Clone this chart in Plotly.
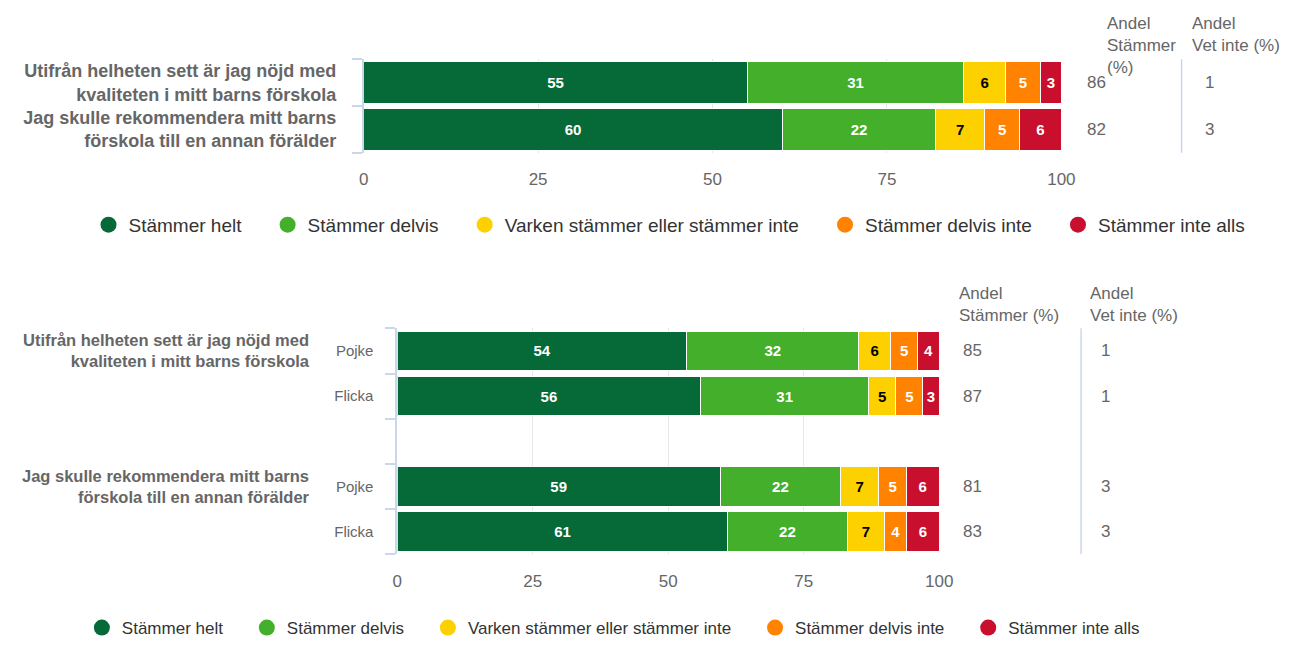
import plotly.graph_objects as go

# ---------------- data ----------------
questions = [
    "Utifrån helheten sett är jag nöjd med<br>kvaliteten i mitt barns förskola",
    "Jag skulle rekommendera mitt barns<br>förskola till en annan förälder",
]
series_names = ["Stämmer helt", "Stämmer delvis", "Varken stämmer eller stämmer inte",
                "Stämmer delvis inte", "Stämmer inte alls"]
colors = ["#066a38", "#44af2a", "#fdd000", "#ff8200", "#c8102e"]
text_colors = ["white", "white", "black", "white", "white"]

# total chart
helt = [55, 60]
delvis = [31, 22]
varken = [6, 7]
delvis_inte = [5, 5]
inte_alls = [3, 6]
andel_stammer = [86, 82]
andel_vet_inte = [1, 3]

# by gender
genders = ["Pojke", "Flicka"]
helt_g = [54, 56, 59, 61]
delvis_g = [32, 31, 22, 22]
varken_g = [6, 5, 7, 7]
delvis_inte_g = [5, 5, 5, 4]
inte_alls_g = [4, 3, 6, 6]
andel_stammer_g = [85, 87, 81, 83]
andel_vet_inte_g = [1, 1, 3, 3]

top_series = [helt, delvis, varken, delvis_inte, inte_alls]
bot_series = [helt_g, delvis_g, varken_g, delvis_inte_g, inte_alls_g]

W, H = 1303, 646
def px(x):
    return x / W
def py(y):
    return 1 - y / H

FONT = "Liberation Sans, Arial, sans-serif"
AXIS_COL = "#ccd6eb"
GRID_COL = "#e6e6e6"
TXT = "#666666"

fig = go.Figure()

top_y = list(range(len(questions)))
bot_y = [q * 3 + g for q in range(len(questions)) for g in range(len(genders))]
bot_labels = [g for q in range(len(questions)) for g in genders]

for i, name in enumerate(series_names):
    fig.add_trace(go.Bar(
        x=top_series[i], y=top_y, orientation="h", name=name,
        marker=dict(color=colors[i], line=dict(color="white", width=1)),
        text=top_series[i], texttemplate="<b>%{text}</b>",
        textposition="inside", insidetextanchor="middle", textangle=0,
        constraintext="none",
        textfont=dict(color=text_colors[i], size=15, family=FONT),
        showlegend=False, hoverinfo="skip", xaxis="x", yaxis="y",
    ))
    fig.add_trace(go.Bar(
        x=bot_series[i], y=bot_y, orientation="h", name=name,
        marker=dict(color=colors[i], line=dict(color="white", width=1)),
        text=bot_series[i], texttemplate="<b>%{text}</b>",
        textposition="inside", insidetextanchor="middle", textangle=0,
        constraintext="none",
        textfont=dict(color=text_colors[i], size=15, family=FONT),
        showlegend=False, hoverinfo="skip", xaxis="x2", yaxis="y2",
    ))

# legend entries (circles)
for i, name in enumerate(series_names):
    fig.add_trace(go.Scatter(x=[None], y=[None], mode="markers", name=name + "    ",
                             marker=dict(color=colors[i], size=18, symbol="circle"),
                             legend="legend", xaxis="x", yaxis="y"))
    fig.add_trace(go.Scatter(x=[None], y=[None], mode="markers", name=name + "    ",
                             marker=dict(color=colors[i], size=18, symbol="circle"),
                             legend="legend2", xaxis="x2", yaxis="y2"))

xcommon = dict(range=[0, 100], tickvals=[0, 25, 50, 75, 100], showgrid=True,
               gridcolor=GRID_COL, gridwidth=1, zeroline=False, showline=False,
               ticks="outside", ticklen=11, tickcolor="rgba(0,0,0,0)",
               tickfont=dict(size=17, color=TXT, family=FONT), fixedrange=True)

fig.update_layout(
    autosize=True,
    barmode="stack", barnorm="percent", bargap=0.12,
    margin=dict(l=0, r=0, t=0, b=0),
    paper_bgcolor="white", plot_bgcolor="white",
    font=dict(family=FONT, color=TXT),
    xaxis=dict(domain=[px(364), px(1072)], anchor="y", **xcommon),
    xaxis2=dict(domain=[px(398), px(948)], anchor="y2", **xcommon),
    yaxis=dict(domain=[py(155), py(60)], anchor="x", range=[len(questions) - 0.5, -0.5],
               tickmode="array", tickvals=top_y,
               ticktext=["<b>" + q + "</b>" for q in questions],
               tickfont=dict(size=18, color=TXT, family=FONT),
               ticks="outside", ticklen=22, tickcolor="rgba(0,0,0,0)",
               showline=True, linecolor=AXIS_COL, linewidth=1.5,
               showgrid=False, zeroline=False, fixedrange=True,
               minor=dict(tickmode="array",
                          tickvals=[v - 0.5 for v in top_y] + [top_y[-1] + 0.5],
                          ticks="outside", ticklen=10, tickcolor=AXIS_COL, tickwidth=1.5,
                          showgrid=False)),
    yaxis2=dict(domain=[py(562), py(333)], anchor="x2", range=[bot_y[-1] + 0.5, -0.5],
                tickmode="array", tickvals=bot_y, ticktext=bot_labels,
                tickfont=dict(size=15, color=TXT, family=FONT),
                ticks="outside", ticklen=19, tickcolor="rgba(0,0,0,0)",
                showline=True, linecolor=AXIS_COL, linewidth=1.5,
                showgrid=False, zeroline=False, fixedrange=True,
                minor=dict(tickmode="array",
                           tickvals=[v - 0.5 for v in range(bot_y[-1] + 1)] + [bot_y[-1] + 0.5],
                           ticks="outside", ticklen=10, tickcolor=AXIS_COL, tickwidth=1.5,
                           showgrid=False)),
    legend=dict(orientation="h", x=px(685), xanchor="center", y=py(228), yanchor="middle",
                traceorder="normal",
                font=dict(size=19, color="#333333", family=FONT), itemclick=False,
                itemdoubleclick=False, bgcolor="rgba(0,0,0,0)"),
    legend2=dict(orientation="h", x=px(627), xanchor="center", y=py(637), yanchor="middle",
                 traceorder="normal",
                 font=dict(size=17, color="#333333", family=FONT), itemclick=False,
                 itemdoubleclick=False, bgcolor="rgba(0,0,0,0)"),
)

ann = []
# headers
hdr_font = dict(size=17, color=TXT, family=FONT)
ann.append(dict(text="Andel<br>Stämmer<br>(%)", x=px(1116), y=py(12), xref="paper", yref="paper",
                xanchor="left", yanchor="top", align="left", showarrow=False, font=hdr_font))
ann.append(dict(text="Andel<br>Vet inte (%)", x=px(1203), y=py(12), xref="paper", yref="paper",
                xanchor="left", yanchor="top", align="left", showarrow=False, font=hdr_font))
ann.append(dict(text="Andel<br>Stämmer (%)", x=px(966), y=py(286), xref="paper", yref="paper",
                xanchor="left", yanchor="top", align="left", showarrow=False, font=hdr_font))
ann.append(dict(text="Andel<br>Vet inte (%)", x=px(1099), y=py(286), xref="paper", yref="paper",
                xanchor="left", yanchor="top", align="left", showarrow=False, font=hdr_font))

val_font = dict(size=17, color=TXT, family=FONT)
for yy, s, v in zip(top_y, andel_stammer, andel_vet_inte):
    ann.append(dict(text=str(s), x=px(1096), y=yy, xref="paper", yref="y", xanchor="left",
                    showarrow=False, font=val_font))
    ann.append(dict(text=str(v), x=px(1222), y=yy, xref="paper", yref="y", xanchor="center",
                    showarrow=False, font=val_font))
for yy, s, v in zip(bot_y, andel_stammer_g, andel_vet_inte_g):
    ann.append(dict(text=str(s), x=px(970), y=yy, xref="paper", yref="y2", xanchor="left",
                    showarrow=False, font=val_font))
    ann.append(dict(text=str(v), x=px(1117), y=yy, xref="paper", yref="y2", xanchor="center",
                    showarrow=False, font=val_font))

# group labels for bottom chart
for q, label in enumerate(questions):
    ann.append(dict(text="<b>" + label + "</b>", x=px(312), y=bot_y[q * len(genders)],
                    xref="paper", yref="y2", xanchor="right", yanchor="middle", align="right",
                    showarrow=False, font=dict(size=16.5, color=TXT, family=FONT)))

fig.update_layout(annotations=ann)

fig.add_shape(type="line", xref="paper", yref="y domain", x0=px(1194), x1=px(1194), y0=0, y1=1,
              line=dict(color=AXIS_COL, width=1.5))
fig.add_shape(type="line", xref="paper", yref="y2 domain", x0=px(1092), x1=px(1092), y0=0, y1=1,
              line=dict(color=AXIS_COL, width=1.5))

post = ("document.body.style.margin='0';document.body.style.padding='0';"
        "document.body.style.overflow='hidden';"
        "document.documentElement.style.overflow='hidden';")
fig.write_html("out.html", config={"displayModeBar": False, "responsive": True},
               default_width="100vw", default_height="100vh", post_script=post)
